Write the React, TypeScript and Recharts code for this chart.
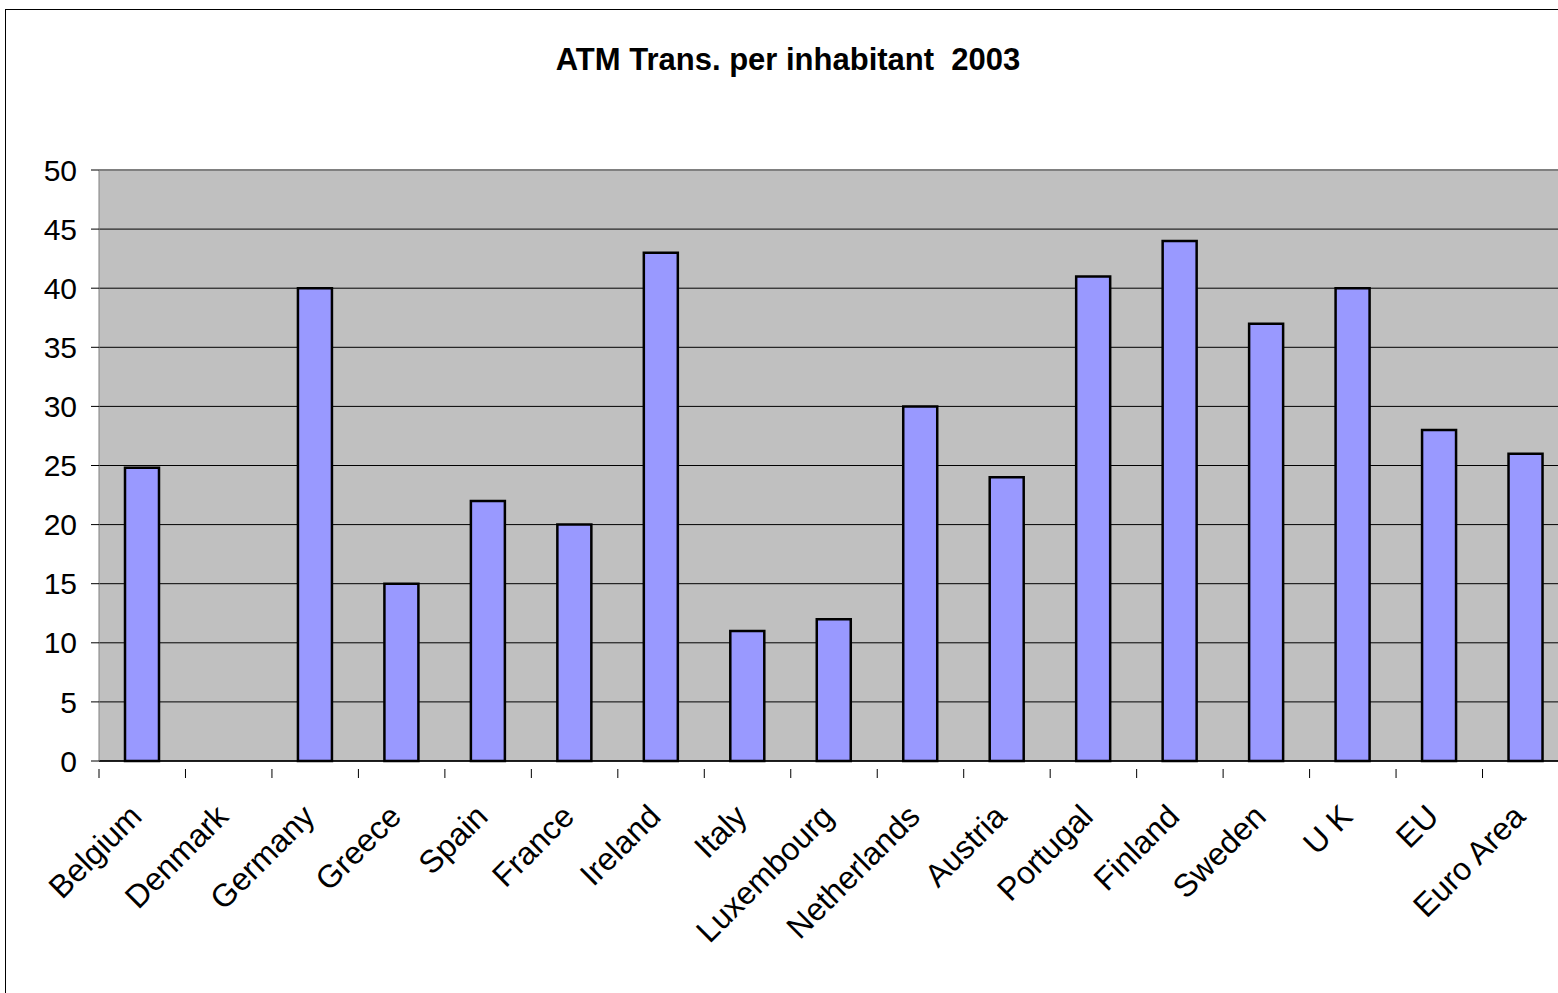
import React from 'react';
import { BarChart, Bar, XAxis, YAxis, CartesianGrid, ReferenceLine } from 'recharts';

// categories and values
const countries = [
  'Belgium', 'Denmark', 'Germany', 'Greece', 'Spain', 'France', 'Ireland', 'Italy',
  'Luxembourg', 'Netherlands', 'Austria', 'Portugal', 'Finland', 'Sweden', 'U K', 'EU', 'Euro Area',
];
const atmPerInhabitant: (number | null)[] = [
  24.8, null, 40, 15, 22, 20, 43, 11, 12, 30, 24, 41, 44, 37, 40, 28, 26,
];
const yTicks = [0, 5, 10, 15, 20, 25, 30, 35, 40, 45, 50];

const data = countries.map((name, i) => ({ name, value: atmPerInhabitant[i] }));

const FONT = '"Liberation Sans", Arial, sans-serif';
const PLOT_LEFT = 99;
const PLOT_WIDTH = 1470;
const BAND = PLOT_WIDTH / countries.length;

const XTick = (props: any) => {
  const { x, y, payload } = props;
  const half = BAND / 2;
  return (
    <g>
      <line x1={x - half} y1={y} x2={x - half} y2={y + 9} stroke="#000" />
      <text
        transform={`translate(${x - 15},${y + 33}) rotate(-45)`}
        textAnchor="end"
        dominantBaseline="hanging"
        fontSize={32}
        fontFamily={FONT}
        fill="#000"
      >
        {payload.value}
      </text>
    </g>
  );
};

export default function App() {
  return (
    <div style={{ position: 'fixed', left: 0, top: 0, width: 1558, height: 993, overflow: 'hidden', background: '#fff' }}>
      <div style={{ position: 'absolute', left: 5, top: 9, width: 1700, height: 1200, border: '1px solid #000' }} />
      <div
        style={{
          position: 'absolute', left: 0, top: 42, width: 1576, textAlign: 'center',
          fontFamily: FONT, fontWeight: 'bold', fontSize: 31, whiteSpace: 'pre',
        }}
      >
        {'ATM Trans. per inhabitant  2003'}
      </div>
      <div style={{ position: 'absolute', left: 0, top: 0 }}>
        <BarChart
          width={PLOT_LEFT + PLOT_WIDTH}
          height={993}
          data={data}
          margin={{ top: 170, right: 0, bottom: 0, left: 0 }}
        >
          <CartesianGrid vertical={false} stroke="#000" fill="#C0C0C0" fillOpacity={1} />
          <XAxis
            dataKey="name"
            height={232}
            interval={0}
            tickLine={false}
            axisLine={{ stroke: '#000', strokeWidth: 1.5 }}
            tick={<XTick />}
          />
          <YAxis
            width={PLOT_LEFT}
            domain={[0, 50]}
            ticks={yTicks}
            interval={0}
            tickSize={8}
            tickMargin={14}
            axisLine={{ stroke: '#808080' }}
            tickLine={{ stroke: '#000' }}
            tick={{ fontSize: 30, fontFamily: FONT, fill: '#000' }}
          />
          <ReferenceLine y={50} stroke="#808080" strokeWidth={2} />
          <Bar
            dataKey="value"
            fill="#9999FF"
            stroke="#000"
            strokeWidth={2.5}
            barSize={34}
            isAnimationActive={false}
          />
        </BarChart>
      </div>
    </div>
  );
}
